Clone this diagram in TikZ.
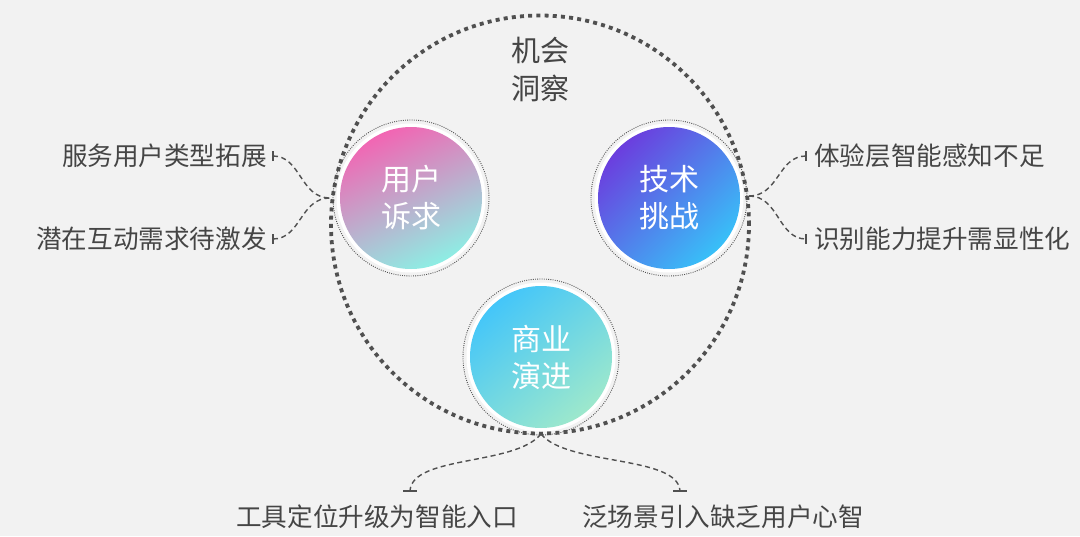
\documentclass[tikz,border=0pt]{standalone}
\usepackage{fontspec}
\setmainfont{Noto Sans CJK SC}
\definecolor{bgc}{HTML}{F2F2F2}
\definecolor{ringc}{HTML}{505050}
\definecolor{txtc}{HTML}{454545}
\definecolor{pinkc}{HTML}{F265B3}
\definecolor{lavc}{HTML}{BBA8DC}
\definecolor{cyanc}{HTML}{8DEEE4}
\definecolor{purpc}{HTML}{6B3EDE}
\definecolor{bluec}{HTML}{38C0F8}
\definecolor{skyc}{HTML}{44C6F9}
\definecolor{skym}{HTML}{5ACDF0}
\definecolor{mintc}{HTML}{9DE8CC}
\begin{document}
\begin{tikzpicture}[x=1pt,y=-1pt,
  bigring/.style={draw=ringc, line width=3.8pt, dash pattern=on 4pt off 4.2pt},
  halo/.style={circle, fill=white, minimum size=149pt, inner sep=0pt},
  ball/.style={circle, minimum size=142pt, inner sep=0pt, text=white, align=center,
    font=\fontsize{30}{37}\selectfont},
  thinring/.style={draw=ringc, line width=0.9pt, dash pattern=on 0.9pt off 1.3pt},
  conn/.style={draw=ringc, line width=1.4pt, dash pattern=on 5pt off 3.5pt},
  tickmark/.style={draw=ringc, line width=1.4pt},
  lbl/.style={text=txtc, inner sep=0pt, font=\fontsize{25.6}{30}\selectfont},
  toplbl/.style={text=txtc, inner sep=0pt, align=center, font=\fontsize{29}{38}\selectfont}]
\fill[bgc] (0,0) rectangle (1080,536);
\useasboundingbox (0,0) rectangle (1080,536);

% big dotted circle
\coordinate (bc) at (540,224.5);
\draw[bigring] (bc) circle[radius=209pt];

% small circles
\node[halo] (uh) at (411,198) {};
\node[halo] (th) at (669,198) {};
\node[halo] (bh) at (541,357) {};
\draw[thinring] (uh) circle[radius=78pt];
\draw[thinring] (th) circle[radius=78pt];
\draw[thinring] (bh) circle[radius=78pt];
\node[ball, top color=pinkc, middle color=lavc, bottom color=cyanc, shading angle=25] (u) at (411,198) {用户\\诉求};
\node[ball, top color=purpc, bottom color=bluec, shading angle=45] (t) at (669,198) {技术\\挑战};
\node[ball, top color=skyc, middle color=skym, bottom color=mintc, shading angle=40] (b) at (541,357) {商业\\演进};

% title
\node[toplbl] (title) at (540,69) {机会\\洞察};

% junctions
\coordinate (jl) at (330,198);
\coordinate (jr) at (749,196);
\coordinate (jb) at (541,434);

% labels
\node[lbl, anchor=east] (l1) at (267,156) {服务用户类型拓展};
\node[lbl, anchor=east] (l2) at (267,239) {潜在互动需求待激发};
\node[lbl, anchor=west] (r1) at (814,156) {体验层智能感知不足};
\node[lbl, anchor=west] (r2) at (814,239) {识别能力提升需显性化};
\node[lbl] (b1) at (377,517) {工具定位升级为智能入口};
\node[lbl] (b2) at (723,517) {泛场景引入缺乏用户心智};

% tick points
\coordinate (tl1) at ([xshift=6pt]l1.east);
\coordinate (tl2) at ([xshift=6pt]l2.east);
\coordinate (tr1) at ([xshift=-8pt]r1.west);
\coordinate (tr2) at ([xshift=-8pt]r2.west);
\coordinate (tb1) at (410,491);
\coordinate (tb2) at (680,491);

\draw[tickmark] ([yshift=-5pt]tl1) -- ([yshift=5pt]tl1);
\draw[tickmark] ([yshift=-5pt]tl2) -- ([yshift=5pt]tl2);
\draw[tickmark] ([yshift=-5pt]tr1) -- ([yshift=5pt]tr1);
\draw[tickmark] ([yshift=-5pt]tr2) -- ([yshift=5pt]tr2);
\draw[tickmark] ([xshift=-7pt]tb1) -- ([xshift=7pt]tb1);
\draw[tickmark] ([xshift=-7pt]tb2) -- ([xshift=7pt]tb2);

% connectors
\draw[conn] (tl1) .. controls +(28,0) and +(-30,0) .. (jl);
\draw[conn] (tl2) .. controls +(28,0) and +(-30,0) .. (jl);
\draw[conn] (jr) .. controls +(30,0) and +(-28,0) .. (tr1);
\draw[conn] (jr) .. controls +(30,0) and +(-28,0) .. (tr2);
\draw[conn] (jb) .. controls +(-26,32) and +(2,-36) .. (tb1);
\draw[conn] (jb) .. controls +(26,32) and +(-2,-36) .. (tb2);
\end{tikzpicture}
\end{document}
